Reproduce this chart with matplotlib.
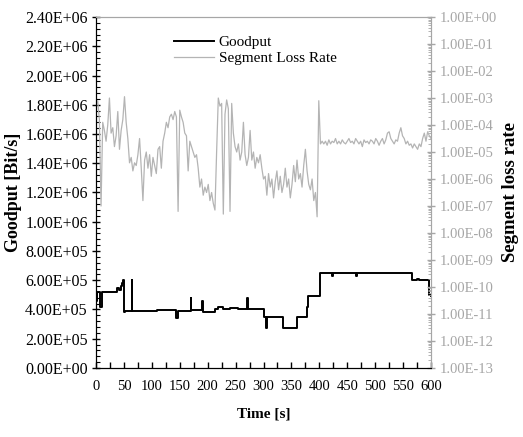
import matplotlib.pyplot as plt
import numpy as np
from matplotlib.ticker import FuncFormatter, MultipleLocator, LogLocator, NullFormatter

plt.rcParams['font.family'] = ['Liberation Serif', 'DejaVu Serif']

# goodput (step changes): time [s], value [Bit/s]
gp_time = [0, 2, 8, 10, 38, 42, 44, 47, 49, 50, 52, 64, 65, 110, 144, 146, 170, 171,
           190, 191, 214, 218, 228, 240, 255, 270, 272, 300, 305, 307, 335, 360, 378,
           380, 401, 422, 424, 466, 468, 566, 575, 578, 597, 600]
gp_value = [4.6e5, 5.2e5, 4.2e5, 5.2e5, 5.5e5, 5.3e5, 5.6e5, 5.8e5, 6.0e5, 3.8e5, 3.9e5,
            6.0e5, 3.9e5, 3.95e5, 3.4e5, 3.9e5, 4.8e5, 3.95e5, 4.6e5, 3.85e5, 4.05e5,
            4.2e5, 4.05e5, 4.1e5, 4.05e5, 4.8e5, 4.0e5, 3.5e5, 2.7e5, 3.5e5, 2.75e5,
            3.5e5, 4.2e5, 4.9e5, 6.5e5, 6.3e5, 6.5e5, 6.3e5, 6.5e5, 6.0e5, 6.1e5, 6.0e5,
            5.0e5, 4.9e5]

# segment loss rate, one reading every 3 s (log10 of the rate)
loss_time = list(range(0, 601, 3))
loss_exp = [
    -3.3, -3.1, -3.8, -7.0, -3.9, -4.2, -4.6, -4.0, -3.0, -4.3,
    -4.1, -4.8, -4.4, -3.5, -4.9, -4.2, -3.8, -2.95, -3.9, -4.5,
    -5.4, -5.2, -5.7, -5.4, -5.5, -5.1, -4.5, -5.6, -6.8, -5.3,
    -5.0, -5.6, -5.1, -5.9, -5.2, -5.5, -5.8, -4.9, -4.8, -5.6,
    -4.6, -4.3, -3.9, -4.1, -3.7, -3.6, -3.8, -3.5, -3.7, -7.2,
    -3.45, -3.7, -3.9, -4.3, -4.4, -5.7, -4.6, -4.8, -5.0, -5.2,
    -5.1, -5.6, -6.3, -6.0, -6.6, -6.3, -6.5, -6.2, -6.8, -6.5,
    -6.9, -7.15, -5.0, -3.0, -3.3, -3.2, -7.3, -3.6, -3.07, -3.4,
    -7.2, -3.2, -4.3, -4.8, -5.0, -4.7, -5.3, -5.0, -3.9, -5.1,
    -5.5, -5.2, -4.2, -5.3, -5.0, -5.6, -5.2, -5.4, -5.1, -5.6,
    -6.0, -5.9, -6.6, -5.8, -6.3, -6.0, -6.7, -6.1, -5.7, -6.4,
    -5.9, -6.5, -6.2, -5.6, -6.3, -6.0, -6.7, -6.2, -5.5, -6.1,
    -5.3, -6.0, -5.8, -6.3, -5.5, -4.9, -5.7, -6.2, -6.4, -6.0,
    -6.8, -6.5, -7.4, -3.1, -4.7, -4.6, -4.7, -4.6, -4.75, -4.55,
    -4.7, -4.6, -4.65, -4.5, -4.7, -4.6, -4.7, -4.55, -4.65, -4.7,
    -4.6, -4.5, -4.65, -4.6, -4.7, -4.5, -4.6, -4.7, -4.6, -4.8,
    -4.55, -4.65, -4.6, -4.7, -4.55, -4.6, -4.7, -4.5, -4.6, -4.75,
    -4.6, -4.5, -4.7, -4.55, -4.3, -4.25, -4.5, -4.6, -4.7, -4.55,
    -4.6, -4.3, -4.1, -4.4, -4.5, -4.7, -4.6, -4.75, -4.7, -4.85,
    -4.7, -4.8, -4.9, -4.7, -4.8, -4.5, -4.3, -4.6, -4.25, -4.4,
    -4.5]
loss_rate = 10.0 ** np.array(loss_exp)

grey = '#a6a6a6'

fig = plt.figure(figsize=(5.23, 4.37), dpi=100)
ax = fig.add_axes([0.1836, 0.158, 0.6405, 0.803])
ax2 = ax.twinx()

l1, = ax.plot(gp_time, gp_value, drawstyle='steps-post', color='black', lw=1.4)
l2, = ax2.plot(loss_time, loss_rate, color='#b4b4b4', lw=0.9)

ax.set_xlim(0, 600)
ax.set_ylim(0, 2.4e6)
ax.xaxis.set_major_locator(MultipleLocator(50))
ax.xaxis.set_minor_locator(MultipleLocator(25))
ax.yaxis.set_major_locator(MultipleLocator(2e5))
ax.yaxis.set_minor_locator(MultipleLocator(4e4))
ax.yaxis.set_major_formatter(FuncFormatter(lambda v, p: f'{v:.2E}'))
ax.tick_params(axis='x', which='both', direction='in', length=4, width=1, pad=9, labelsize=10.5)
ax.tick_params(axis='y', which='major', direction='inout', length=6, width=1, pad=3, labelsize=11.5)
ax.tick_params(axis='y', which='minor', direction='in', length=3, width=0.8)

ax2.set_yscale('log')
ax2.set_ylim(1e-13, 1)
ax2.yaxis.set_major_locator(LogLocator(base=10, numticks=20))
ax2.yaxis.set_minor_locator(LogLocator(base=10, subs=np.arange(2, 10), numticks=20))
ax2.yaxis.set_minor_formatter(NullFormatter())
ax2.yaxis.set_major_formatter(FuncFormatter(lambda v, p: f'{v:.2E}'))
ax2.tick_params(axis='y', which='major', direction='inout', length=6, width=1, pad=3,
                labelsize=10.5, colors=grey, labelcolor=grey)
ax2.tick_params(axis='y', which='minor', direction='in', length=2.5, width=0.6, colors=grey)

for a in (ax, ax2):
    a.spines['left'].set_color('black')
    a.spines['bottom'].set_color('black')
    a.spines['top'].set_color(grey)
    a.spines['right'].set_color(grey)

ax.set_xlabel('Time [s]', fontweight='bold', fontsize=11, labelpad=10)
ax.set_ylabel('Goodput [Bit/s]', fontweight='bold', fontsize=13, labelpad=2)
ax2.set_ylabel('Segment loss rate', fontweight='bold', fontsize=13.5, labelpad=4)

ax2.legend([l1, l2], ['Goodput', 'Segment Loss Rate'], loc='upper left',
           bbox_to_anchor=(0.193, 0.987), frameon=False, fontsize=11,
           handlelength=2.6, handletextpad=0.3, labelspacing=0.15)

fig.savefig('out.png', dpi=100)
